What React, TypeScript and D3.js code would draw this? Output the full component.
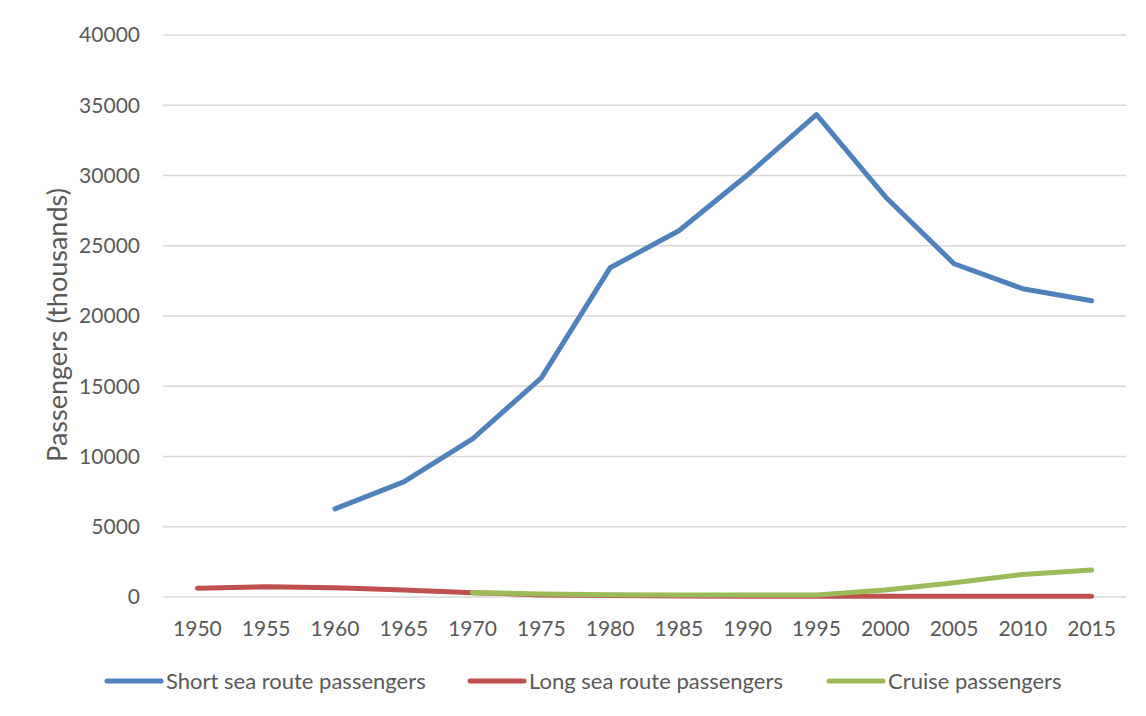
import React, { useEffect, useRef } from 'react';
import * as d3 from 'd3';

const years = ['1950', '1955', '1960', '1965', '1970', '1975', '1980', '1985', '1990', '1995', '2000', '2005', '2010', '2015'];
const shortSea: (number | null)[] = [null, null, 6270, 8190, 11250, 15600, 23430, 26070, 30050, 34330, 28490, 23720, 21940, 21080];
const longSea: (number | null)[] = [620, 730, 660, 500, 310, 150, 100, 70, 60, 50, 50, 50, 50, 50];
const cruise: (number | null)[] = [null, null, null, null, 310, 220, 160, 140, 150, 150, 500, 1020, 1610, 1920];
const yTicks = [0, 5000, 10000, 15000, 20000, 25000, 30000, 35000, 40000];

const series = [
  { name: 'Short sea route passengers', values: shortSea, color: '#4F81BD' },
  { name: 'Long sea route passengers', values: longSea, color: '#C0504D' },
  { name: 'Cruise passengers', values: cruise, color: '#9BBB59' },
];

const width = 1146;
const height = 716;

const App: React.FC = () => {
  const svgRef = useRef<SVGSVGElement>(null);

  useEffect(() => {
    if (!svgRef.current) return;
    const svg = d3.select(svgRef.current);
    svg.selectAll('*').remove();

    const margin = { top: 35, right: 20, bottom: 119, left: 163 };
    const font = 'Lato, "Open Sans", sans-serif';
    const textColor = '#595959';

    // outer border
    svg.append('rect')
      .attr('x', 6.5).attr('y', 6.5)
      .attr('width', width - 13).attr('height', height - 13)
      .attr('fill', 'white').attr('stroke', '#d9d9d9');

    const x = d3.scaleBand<string>()
      .domain(years)
      .range([margin.left, width - margin.right]);

    const y = d3.scaleLinear()
      .domain([0, 40000])
      .range([height - margin.bottom, margin.top]);

    // gridlines
    svg.append('g')
      .selectAll('line')
      .data(yTicks)
      .join('line')
      .attr('x1', margin.left)
      .attr('x2', width - margin.right)
      .attr('y1', d => y(d))
      .attr('y2', d => y(d))
      .attr('stroke', '#d9d9d9')
      .attr('stroke-width', 1.5);

    // y tick labels
    svg.append('g')
      .selectAll('text')
      .data(yTicks)
      .join('text')
      .attr('x', 140)
      .attr('y', d => y(d))
      .attr('dy', '0.35em')
      .attr('text-anchor', 'end')
      .attr('font-family', font)
      .attr('font-size', 21)
      .attr('fill', textColor)
      .text(d => String(d));

    // x tick labels
    svg.append('g')
      .selectAll('text')
      .data(years)
      .join('text')
      .attr('x', d => (x(d) as number) + x.bandwidth() / 2)
      .attr('y', height - margin.bottom + 39)
      .attr('text-anchor', 'middle')
      .attr('font-family', font)
      .attr('font-size', 21)
      .attr('fill', textColor)
      .text(d => d);

    // y axis title
    svg.append('text')
      .attr('transform', `translate(67,325) rotate(-90)`)
      .attr('text-anchor', 'middle')
      .attr('font-family', font)
      .attr('font-size', 27)
      .attr('fill', textColor)
      .text('Passengers (thousands)');

    // lines
    const line = d3.line<number | null>()
      .defined(d => d !== null)
      .x((_, i) => (x(years[i]) as number) + x.bandwidth() / 2)
      .y(d => y(d as number));

    series.forEach(s => {
      svg.append('path')
        .datum(s.values)
        .attr('fill', 'none')
        .attr('stroke', s.color)
        .attr('stroke-width', 5)
        .attr('stroke-linecap', 'round')
        .attr('stroke-linejoin', 'round')
        .attr('d', line);
    });

    // legend
    const legendX = [107, 470, 829];
    const legend = svg.append('g').attr('transform', `translate(0,681)`);
    series.forEach((s, i) => {
      legend.append('line')
        .attr('x1', legendX[i]).attr('x2', legendX[i] + 54)
        .attr('y1', 0).attr('y2', 0)
        .attr('stroke', s.color).attr('stroke-width', 5)
        .attr('stroke-linecap', 'round');
      legend.append('text')
        .attr('x', legendX[i] + 59)
        .attr('y', 0)
        .attr('dy', '0.35em')
        .attr('font-family', font)
        .attr('font-size', 22)
        .attr('fill', textColor)
        .text(s.name);
    });
  }, []);

  return <svg ref={svgRef} width={width} height={height} style={{ display: 'block', margin: -8 }} />;
};

export default App;
